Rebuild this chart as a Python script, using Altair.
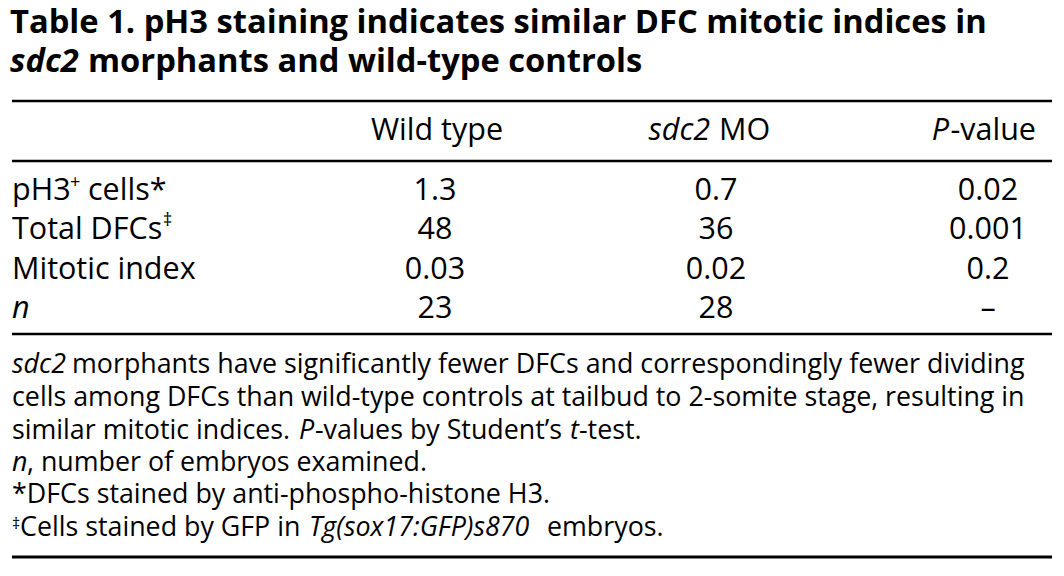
import altair as alt
import pandas as pd

FONT = "Open Sans"

# ---------------- content ----------------
title_line1 = "Table 1. pH3 staining indicates similar DFC mitotic indices in"
title_line2_italic = "sdc2"
title_line2_rest = "morphants and wild-type controls"

header_wild = "Wild type"
header_mo_italic = "sdc2"
header_mo_rest = "MO"
header_p_italic = "P"
header_p_rest = "-value"

row_labels = ["pH3", "Total DFCs", "Mitotic index", "n"]
row_marks = ["+", "‡", "", ""]
row_label_suffix = ["cells*", "", "", ""]
wild_type = ["1.3", "48", "0.03", "23"]
sdc2_mo = ["0.7", "36", "0.02", "28"]
p_values = ["0.02", "0.001", "0.2", "–"]

note1_italic = "sdc2"
note1_rest = "morphants have significantly fewer DFCs and correspondingly fewer dividing"
note2 = "cells among DFCs than wild-type controls at tailbud to 2-somite stage, resulting in"
note3_a = "similar mitotic indices."
note3_b_italic = "P"
note3_c = "-values by Student’s"
note3_d_italic = "t"
note3_e = "-test."
note4_italic = "n"
note4_rest = ", number of embryos examined."
note5 = "*DFCs stained by anti-phospho-histone H3."
note6_mark = "‡"
note6_a = "Cells stained by GFP in"
note6_b_italic = "Tg(sox17:GFP)s870"
note6_c = "embryos."

# ---------------- layout ----------------
TITLE_SIZE = 32.7
BODY_SIZE = 30.5
SUP_SIZE = 18
NOTE_SIZE = 26.8
NOTE_SUP = 16

col_x = [435, 716, 988]
row_y = [200, 239, 279, 318]
note_y = [373, 406, 439, 471, 503, 536]

segs = []


def seg(text, x, y, size, italic=False, bold=False, align="left"):
    segs.append(dict(text=text, x=x, y=y, size=size,
                     style="italic" if italic else "normal",
                     weight="bold" if bold else "normal", align=align))


# title
seg(title_line1, 10, 33, TITLE_SIZE, bold=True)
seg(title_line2_italic, 10, 72, TITLE_SIZE, italic=True, bold=True)
seg(title_line2_rest, 88, 72, TITLE_SIZE, bold=True)

# header
seg(header_wild, col_x[0] + 2, 140, BODY_SIZE, align="center")
seg(header_mo_italic, 710, 140, BODY_SIZE, italic=True, align="right")
seg(header_mo_rest, 719, 140, BODY_SIZE)
seg(header_p_italic, 949, 140, BODY_SIZE, italic=True, align="right")
seg(header_p_rest, 1036, 140, BODY_SIZE, align="right")

# row labels
label_mark_x = [70, 163, 0, 0]
label_mark_y = [188, 226, 0, 0]
for i, lab in enumerate(row_labels):
    seg(lab, 12, row_y[i], BODY_SIZE, italic=(lab == "n"))
    if row_marks[i]:
        seg(row_marks[i], label_mark_x[i], label_mark_y[i], SUP_SIZE)
    if row_label_suffix[i]:
        seg(row_label_suffix[i], 88, row_y[i], BODY_SIZE)

# values
for ci, col in enumerate([wild_type, sdc2_mo, p_values]):
    for ri, v in enumerate(col):
        seg(v, col_x[ci], row_y[ri], BODY_SIZE, align="center")

# footnotes
seg(note1_italic, 12, note_y[0], NOTE_SIZE, italic=True)
seg(note1_rest, 72, note_y[0], NOTE_SIZE)
seg(note2, 12, note_y[1], NOTE_SIZE)
seg(note3_a, 12, note_y[2], NOTE_SIZE)
seg(note3_b_italic, 299, note_y[2], NOTE_SIZE, italic=True)
seg(note3_c, 315, note_y[2], NOTE_SIZE)
seg(note3_d_italic, 570, note_y[2], NOTE_SIZE, italic=True)
seg(note3_e, 579, note_y[2], NOTE_SIZE)
seg(note4_italic, 12, note_y[3], NOTE_SIZE, italic=True)
seg(note4_rest, 27, note_y[3], NOTE_SIZE)
seg(note5, 12, note_y[4], NOTE_SIZE)
seg(note6_mark, 12, note_y[5] - 7, NOTE_SUP)
seg(note6_a, 20, note_y[5], NOTE_SIZE)
seg(note6_b_italic, 309, note_y[5], NOTE_SIZE, italic=True)
seg(note6_c, 547, note_y[5], NOTE_SIZE)

seg_df = pd.DataFrame(segs)

rules = pd.DataFrame({
    "x": [12, 12, 12, 12],
    "x2": [1052, 1052, 1052, 1052],
    "y": [101, 161, 334, 557],
    "w": [2.5, 2.5, 2.5, 3],
})

xs = alt.Scale(domain=[8, 1056], nice=False, zero=False)
ys = alt.Scale(domain=[8, 568], nice=False, zero=False, reverse=True)

layers = []
for w, rdf in rules.groupby("w"):
    layers.append(
        alt.Chart(rdf).mark_rule(color="black", strokeWidth=float(w)).encode(
            x=alt.X("x:Q", scale=xs, axis=None),
            x2="x2:Q",
            y=alt.Y("y:Q", scale=ys, axis=None),
        )
    )

for (size, style, weight, align), gdf in seg_df.groupby(["size", "style", "weight", "align"]):
    layers.append(
        alt.Chart(gdf).mark_text(
            font=FONT, fontSize=float(size), fontStyle=style, fontWeight=weight,
            align=align, baseline="alphabetic", color="black",
        ).encode(
            x=alt.X("x:Q", scale=xs, axis=None),
            y=alt.Y("y:Q", scale=ys, axis=None),
            text="text:N",
        )
    )

chart = alt.layer(*layers).properties(
    width=1048, height=560, padding=0, autosize="none", background="white"
).configure_view(stroke=None)

chart.save("out.html", embed_options={"renderer": "svg", "actions": False})
